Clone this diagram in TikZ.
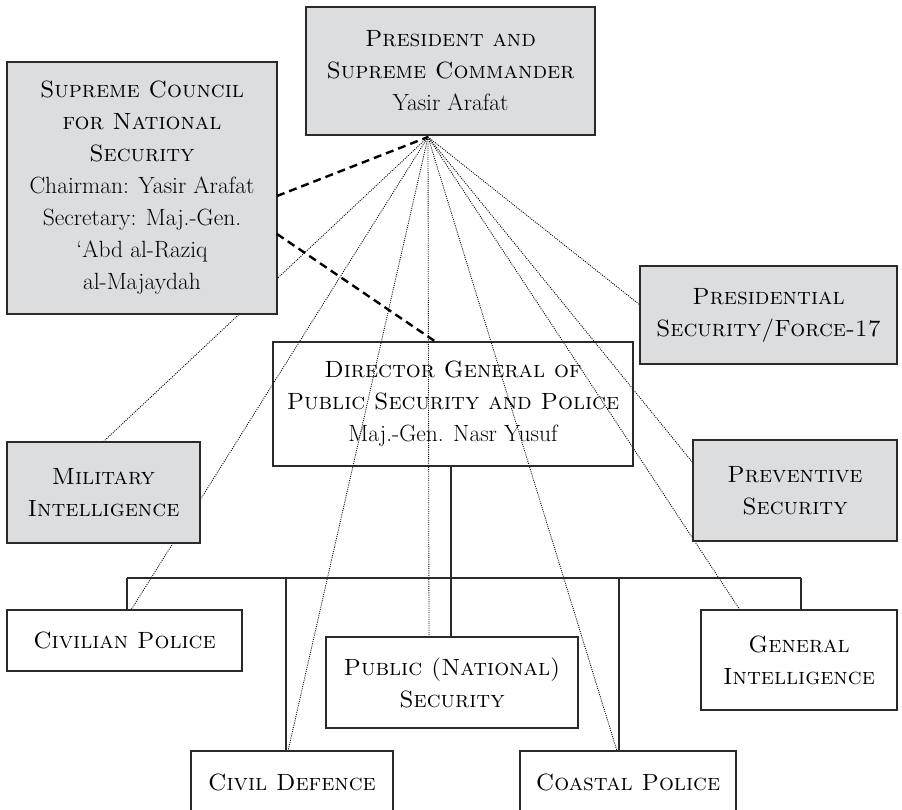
\documentclass[tikz,border=0pt]{standalone}
\usepackage{fontspec}
\usetikzlibrary{calc}
\pgfdeclarelayer{background}
\pgfsetlayers{background,main}
\definecolor{boxgray}{HTML}{DCDDDF}
\definecolor{inkc}{HTML}{2A2A2A}
\tikzset{
  unit/.style={draw=inkc, line width=1.2pt, align=center, inner sep=0pt,
    font=\fontsize{23.5}{32}\selectfont, text=black},
  grayunit/.style={unit, fill=boxgray},
  whiteunit/.style={unit},
  dotline/.style={draw=black, line width=0.85pt, dash pattern=on 1pt off 1.2pt},
  dashline/.style={draw=black, line width=2.4pt, dash pattern=on 8pt off 5pt},
  busline/.style={draw=inkc, line width=1.2pt}
}
\begin{document}
\begin{tikzpicture}[x=1pt,y=-1pt]
\useasboundingbox (0,0) rectangle (902,810);
% nodes
\node[grayunit, minimum width=289pt, minimum height=128pt] (pres) at (450.5,71)
  {\scshape President and\\\scshape Supreme Commander\\Yasir Arafat};
\node[grayunit, minimum width=270pt, minimum height=252pt] (scns) at (142,188)
  {\scshape Supreme Council\\\scshape for National\\\scshape Security\\Chairman: Yasir Arafat\\Secretary: Maj.-Gen.\\`Abd al-Raziq\\al-Majaydah};
\node[whiteunit, minimum width=360pt, minimum height=124pt] (dg) at (453,404)
  {\scshape Director General of\\\scshape Public Security and Police\\Maj.-Gen. Nasr Yusuf};
\node[grayunit, minimum width=257pt, minimum height=98pt] (psf) at (768.5,315)
  {\scshape Presidential\\\scshape Security/Force-17};
\node[grayunit, minimum width=193pt, minimum height=101pt] (mil) at (103.5,492.5)
  {\scshape Military\\\scshape Intelligence};
\node[grayunit, minimum width=204pt, minimum height=101pt] (prev) at (795,490.5)
  {\scshape Preventive\\\scshape Security};
\node[whiteunit, minimum width=235pt, minimum height=61pt] (civ) at (124.5,640.5)
  {\scshape Civilian Police};
\node[whiteunit, minimum width=252pt, minimum height=91pt] (pub) at (452,682.5)
  {\scshape Public (National)\\\scshape Security};
\node[whiteunit, minimum width=196pt, minimum height=100pt] (gen) at (799,660)
  {\scshape General\\\scshape Intelligence};
\node[whiteunit, minimum width=202pt, minimum height=63pt] (cdef) at (292,782.5)
  {\scshape Civil Defence};
\node[whiteunit, minimum width=216pt, minimum height=63pt] (coast) at (628,782.5)
  {\scshape Coastal Police};
% connection points
\coordinate (apex) at (428,137);
\coordinate (milT) at (103,442);
\coordinate (civT) at (131,610);
\coordinate (cdefT) at (288,751);
\coordinate (pubT) at (429,637);
\coordinate (coastT) at (617,751);
\coordinate (genT) at (740,610);
\coordinate (prevL) at (693,463);
\coordinate (psfL) at (640,305);
\coordinate (scnsA) at (277,196);
\coordinate (scnsB) at (277,234);
\coordinate (dgT) at (436,342);
\coordinate (bus) at (451,578);
\coordinate (dCiv) at (127,578);
\coordinate (dCd) at (286,578);
\coordinate (dCo) at (619,578);
\coordinate (dGen) at (801,578);
\begin{pgfonlayer}{background}
  \draw[dotline] (apex) -- (milT);
  \draw[dotline] (apex) -- (civT);
  \draw[dotline] (apex) -- (cdefT);
  \draw[dotline] (apex) -- (pubT);
  \draw[dotline] (apex) -- (coastT);
  \draw[dotline] (apex) -- (genT);
  \draw[dotline] (apex) -- (prevL);
  \draw[dotline] (apex) -- (psfL);
\end{pgfonlayer}
\draw[dashline] (scnsA) -- (apex);
\draw[dashline] (scnsB) -- (dgT);
% organisational bus
\draw[busline] (dg.south -| bus) -- (bus);
\draw[busline] (dCiv) -- (dGen);
\draw[busline] (dCiv) -- (dCiv |- civ.north);
\draw[busline] (dCd) -- (dCd |- cdef.north);
\draw[busline] (bus) -- (bus |- pub.north);
\draw[busline] (dCo) -- (dCo |- coast.north);
\draw[busline] (dGen) -- (dGen |- gen.north);
\end{tikzpicture}
\end{document}
